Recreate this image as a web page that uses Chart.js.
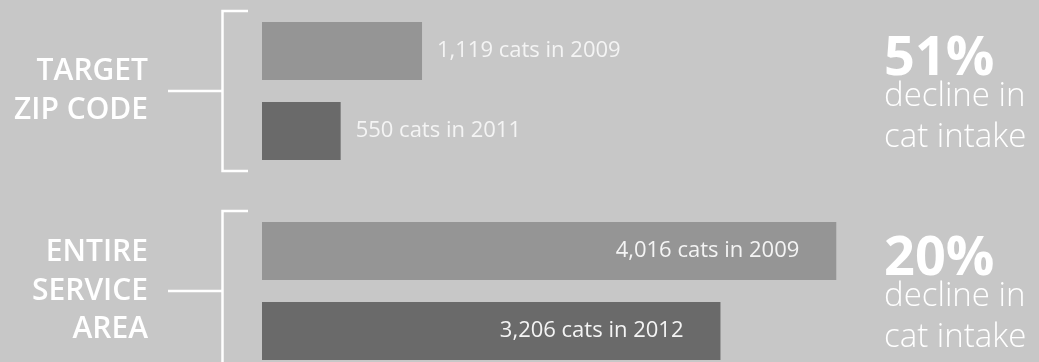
<!DOCTYPE html>
<html>
<head>
<meta charset="utf-8">
<script src="https://cdn.jsdelivr.net/npm/chart.js@4.4.0/dist/chart.umd.min.js"></script>
<style>
  html, body { margin: 0; padding: 0; background: #c7c7c7; overflow: hidden; }
  #wrap { position: absolute; left: 0; top: -9px; width: 1039px; height: 400px; }
</style>
</head>
<body>
<div id="wrap"><canvas id="chart" width="1039" height="400"></canvas></div>
<script>
// Cat intake, target zip code vs entire service area

const groups = [['TARGET', 'ZIP CODE'], ['ENTIRE', 'SERVICE', 'AREA']];
const firstYears = [2009, 2009];
const firstCounts = [1119, 4016];
const secondYears = [2011, 2012];
const secondCounts = [550, 3206];
const declineText = ['decline in', 'cat intake'];

// Percent decline per group, e.g. 1119 -> 550 is 51%
const declines = firstCounts.map((v, i) => Math.round((1 - secondCounts[i] / v) * 100));

// Draws the brackets, the bar labels and the decline figures
const annotations = {
  id: 'annotations',
  afterDatasetsDraw(chart) {
    const ctx = chart.ctx;
    const area = chart.chartArea;
    const yScale = chart.scales.y;

    ctx.save();
    ctx.strokeStyle = '#ffffff';
    ctx.fillStyle = '#ffffff';
    ctx.lineWidth = 2.5;

    // Brackets next to each group label
    groups.forEach((g, i) => {
      const cy = yScale.getPixelForValue(i);
      const bx = area.left - 39.5;
      ctx.beginPath();
      ctx.moveTo(area.left - 14, cy - 80);
      ctx.lineTo(bx, cy - 80);
      ctx.lineTo(bx, cy + 80);
      ctx.lineTo(area.left - 14, cy + 80);
      ctx.moveTo(area.left - 94, cy);
      ctx.lineTo(bx, cy);
      ctx.stroke();
    });

    // Value labels on the bars
    ctx.font = '400 22px "Open Sans"';
    ctx.fillStyle = '#f4f4f4';
    ctx.textBaseline = 'middle';
    chart.data.datasets.forEach((ds, d) => {
      chart.getDatasetMeta(d).data.forEach((bar, i) => {
        const text = ds.data[i].toLocaleString('en-US') + ' cats in ' + ds.years[i];
        if (bar.x - bar.base > 300) {
          ctx.textAlign = 'right';
          ctx.fillText(text, bar.x - 37, bar.y);
        } else {
          ctx.textAlign = 'left';
          ctx.fillText(text, bar.x + 15, bar.y);
        }
      });
    });

    // Decline figures on the right
    ctx.fillStyle = '#ffffff';
    ctx.textAlign = 'left';
    ctx.textBaseline = 'alphabetic';
    declines.forEach((pct, i) => {
      const cy = yScale.getPixelForValue(i);
      ctx.font = '700 54px "Open Sans"';
      ctx.fillText(pct + '%', 884, cy - 16);
      ctx.font = '300 33px "Open Sans"';
      ctx.fillText(declineText[0], 884, cy + 15);
      ctx.fillText(declineText[1], 884, cy + 56);
    });
    ctx.restore();
  }
};

new Chart(document.getElementById('chart'), {
  type: 'bar',
  data: {
    labels: groups,
    datasets: [{
      label: 'First year',
      data: firstCounts,
      years: firstYears,
      backgroundColor: '#959595'
    }, {
      label: 'Second year',
      data: secondCounts,
      years: secondYears,
      backgroundColor: '#6a6a6a'
    }]
  },
  options: {
    indexAxis: 'y',
    responsive: false,
    animation: false,
    devicePixelRatio: 1,
    categoryPercentage: 0.8,
    barPercentage: 0.725,
    layout: { padding: { left: 0, right: 62, top: 0, bottom: 0 } },
    scales: {
      x: { display: false, min: 0, max: 5000 },
      y: {
        grid: { display: false, drawTicks: false },
        border: { display: false },
        afterFit: (scale) => {
          // fixed axis width, and no extra room for the multi-line labels
          scale.width = 262;
          scale.paddingTop = 0;
          scale.paddingBottom = 0;
        },
        ticks: {
          color: '#ffffff',
          padding: 114,
          font: { family: 'Open Sans', size: 30, weight: 600, lineHeight: 1.28 }
        }
      }
    },
    plugins: {
      legend: { display: false },
      tooltip: { enabled: false }
    }
  },
  plugins: [annotations]
});
</script>
</body>
</html>
